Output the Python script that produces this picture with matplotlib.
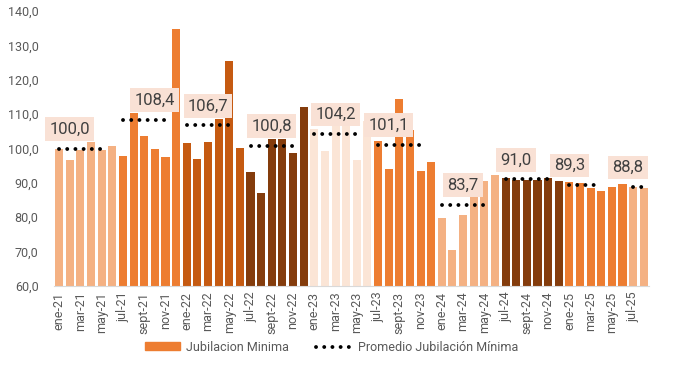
import matplotlib
matplotlib.use('Agg')
import matplotlib.pyplot as plt
from matplotlib.patches import Patch
from matplotlib.lines import Line2D
import numpy as np

plt.rcParams['font.family'] = ['Roboto', 'DejaVu Sans']

# datos
meses = ['ene', 'feb', 'mar', 'abr', 'may', 'jun', 'jul', 'ago', 'sept', 'oct', 'nov', 'dic']
anios = ['21', '22', '23', '24', '25']
etiquetas = [m + '-' + a for a in anios for m in meses][:56]

jubilacion = [
    100.0, 96.7, 99.6, 101.8, 99.6, 100.7, 97.8, 110.2, 103.6, 100.0, 97.6, 134.7,   # 2021
    101.7, 96.9, 102.0, 108.6, 125.5, 100.2, 93.2, 87.2, 102.8, 102.8, 98.7, 112.2,   # 2022
    105.7, 99.3, 107.5, 107.5, 96.7, 108.0, 102.3, 94.0, 114.3, 105.5, 93.5, 96.2,    # 2023
    79.7, 70.5, 80.7, 88.5, 90.5, 92.3, 91.3, 90.8, 90.8, 90.8, 91.3, 90.5,           # 2024
    90.3, 90.1, 88.4, 87.6, 88.9, 89.6, 88.9, 88.4,                                   # 2025
]

# semestres
grupo_meses = [6, 6, 6, 6, 6, 6, 6, 6, 6, 2]
grupo_prom = [100.0, 108.4, 106.7, 100.8, 104.2, 101.1, 83.7, 91.0, 89.3, 88.8]
grupo_linea = [5, 5, 5, 5, 5, 5, 5, 5, 4, 2]   # meses que cubre la linea punteada

colores = ['#F4B183', '#ED7D31', '#C55A11', '#843C0C', '#FBE5D6',
           '#ED7D31', '#F4B183', '#843C0C', '#ED7D31', '#F4B183']
label_dx = [1, 3, 2, 2, 2, 1, 2, 1, 0, -0.5]

fig = plt.figure(figsize=(6.76, 3.65), dpi=100)
ax = fig.add_axes([0.0797, 0.2164, 0.8805, 0.7535])

x = np.arange(len(jubilacion))
color_barras = []
for n, c in zip(grupo_meses, colores):
    color_barras += [c] * n
ax.bar(x, jubilacion, width=0.76, color=color_barras, zorder=2)

dots = (0, (0.01, 2.1))
i0 = 0
for n, prom, nl, dx in zip(grupo_meses, grupo_prom, grupo_linea, label_dx):
    xs = np.arange(i0, i0 + nl)
    ax.plot(xs, [prom] * nl, color='black', lw=2.8, linestyle=dots,
            dash_capstyle='round', zorder=3)
    ax.text(i0 + dx, prom + 5.7, f'{prom:.1f}'.replace('.', ','),
            ha='center', va='center', fontsize=12, color='#404040',
            bbox=dict(boxstyle='square,pad=0.25', fc='#F9E1D5', ec='none'),
            zorder=4)
    i0 += n

ax.set_xlim(-0.5, len(jubilacion) - 0.5)
ax.set_ylim(60, 140)
ax.set_yticks(range(60, 141, 10))
ax.set_yticklabels([f'{v},0' for v in range(60, 141, 10)])
ax.set_xticks(x[::2])
ax.set_xticklabels(etiquetas[::2], rotation=90)
ax.tick_params(axis='y', length=0, pad=11, colors='#595959', labelsize=9)
ax.tick_params(axis='x', length=0, pad=4, colors='#595959', labelsize=9)

for s in ['top', 'right', 'left']:
    ax.spines[s].set_visible(False)
ax.spines['bottom'].set_color('#D9D9D9')

handles = [Patch(color='#ED7D31'),
           Line2D([0], [0], color='black', lw=2.8, linestyle=dots, dash_capstyle='round')]
fig.legend(handles, ['Jubilacion Minima', 'Promedio Jubilación Mínima'],
           loc='center', bbox_to_anchor=(0.49, 0.049), ncol=2, frameon=False,
           fontsize=9, labelcolor='#595959', handlelength=2.8, handleheight=0.55,
           handletextpad=0.5, columnspacing=2.2)

fig.savefig('out.png', dpi=100)
